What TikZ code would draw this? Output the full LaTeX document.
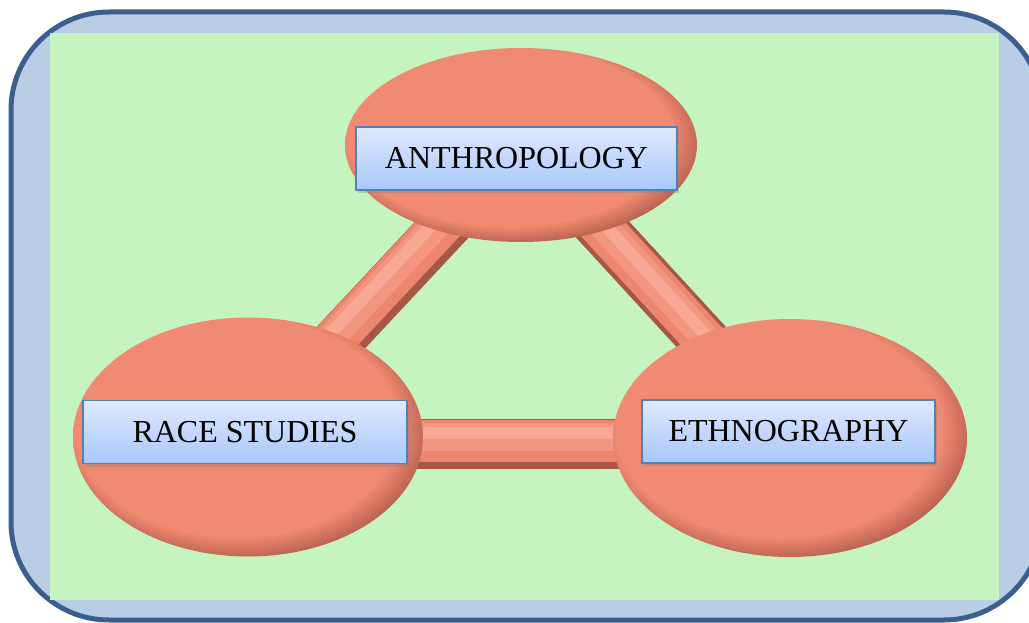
\documentclass[tikz,border=0pt]{standalone}
\usepackage{fontspec}
\setmainfont{Liberation Serif}
\usetikzlibrary{calc,shapes.geometric,shadows}
\definecolor{framedge}{RGB}{58,95,143}
\definecolor{framefill}{RGB}{185,205,228}
\definecolor{panelgreen}{RGB}{198,244,192}
\definecolor{ovalmid}{RGB}{241,138,114}
\definecolor{ovalrim}{RGB}{150,72,58}
\definecolor{barrim}{RGB}{168,86,70}
\definecolor{barmid}{RGB}{236,134,110}
\definecolor{barsoft}{RGB}{243,150,128}
\definecolor{barlight}{RGB}{248,168,148}
\definecolor{tagtop}{RGB}{223,233,255}
\definecolor{tagbottom}{RGB}{168,199,250}
\definecolor{tagedge}{RGB}{79,129,189}
\pgfdeclareradialshading{ovalshade}{\pgfpoint{-3bp}{4bp}}{color(0bp)=(ovalmid); color(23bp)=(ovalmid); color(30bp)=(ovalrim); color(50bp)=(ovalrim)}
\pgfdeclarelayer{frame}
\pgfdeclarelayer{bars}
\pgfsetlayers{frame,bars,main}

\begin{document}
\begin{tikzpicture}[
  x=1pt,y=-1pt,
  oval/.style={ellipse,shade,shading=ovalshade,inner sep=0pt},
  tag/.style={draw=tagedge,line width=1.5pt,top color=tagtop,bottom color=tagbottom,
    drop shadow={shadow xshift=2pt,shadow yshift=-3pt,opacity=0.35},
    minimum height=63pt,inner sep=0pt,font=\fontsize{32}{38}\selectfont},
  bar/.style={line width=50pt,draw=barrim,
    postaction={draw=barmid,line width=42pt,transform canvas={xshift=-2pt,yshift=3pt}},
    postaction={draw=barsoft,line width=28pt,transform canvas={xshift=-3pt,yshift=7pt}},
    postaction={draw=barlight,line width=12pt,transform canvas={xshift=-4pt,yshift=11pt}}}
]
  \useasboundingbox (0,0) rectangle (1029,623);
  \begin{pgfonlayer}{frame}
    \draw[framedge,fill=framefill,line width=5pt,rounded corners=98pt] (11,12) rectangle (1042,620);
    \fill[panelgreen] (50,33) rectangle (999,600);
  \end{pgfonlayer}

  \node[oval,minimum width=352pt,minimum height=194pt] (anth) at (521,145) {};
  \node[oval,minimum width=350pt,minimum height=239pt] (race) at (248,437) {};
  \node[oval,minimum width=354pt,minimum height=238pt] (ethno) at (790,438) {};

  \begin{pgfonlayer}{bars}
    \draw[bar] (anth.center) -- (race.center);
    \draw[bar] ($(anth.center)+(4,0)$) -- ($(ethno.center)+(4,0)$);
    \draw[bar] ($(race.center)+(0,7)$) -- ($(ethno.center)+(0,6)$);
  \end{pgfonlayer}

  \node[tag,minimum width=321pt] (anthtag) at (516.5,158.5) {ANTHROPOLOGY};
  \node[tag,minimum width=324pt] (racetag) at (245,432) {RACE STUDIES};
  \node[tag,minimum width=293pt] (ethnotag) at (788.5,431.5) {ETHNOGRAPHY};
\end{tikzpicture}
\end{document}
